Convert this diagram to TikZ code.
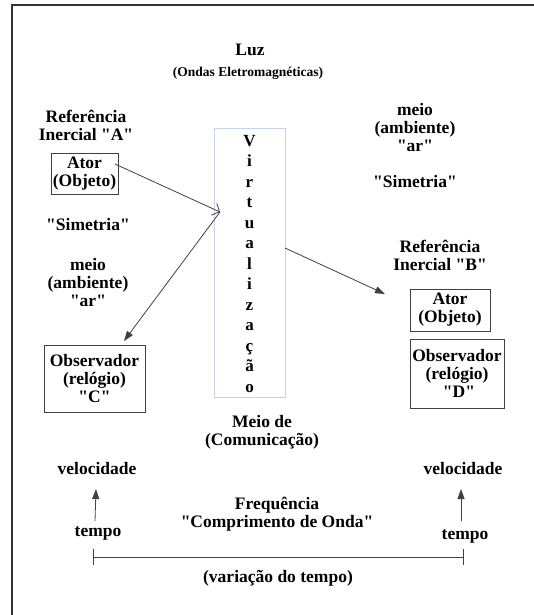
\documentclass[tikz,border=0pt]{standalone}
\usepackage{fontspec}
\setmainfont{Liberation Serif}[Ligatures=TeXOff]
\usetikzlibrary{arrows.meta}
\begin{document}
\begin{tikzpicture}[x=1pt,y=-1pt,
  txt/.style={inner sep=0pt,align=center,font=\bfseries\fontsize{17.5}{18}\selectfont},
  smalltxt/.style={inner sep=0pt,align=center,font=\bfseries\fontsize{13.5}{15}\selectfont},
  box/.style={txt,draw=black!75,line width=0.9pt},
  conn/.style={draw=black!75,line width=0.8pt},
  filltip/.style={-{Triangle[length=10pt,width=7pt]}},
  opentip/.style={-{Straight Barb[length=6pt,width=13pt]}}]
\useasboundingbox (0,0) rectangle (534,615);
% outer frame (runs off the page on the right and at the bottom)
\draw[black!80,line width=1.4pt] (12,640) -- (12,5) -- (560,5);

% headings
\node[txt] (luz) at (250,50) {Luz};
\node[smalltxt] (ondas) at (248,73) {(Ondas Eletromagnéticas)};

% reference frame A
\node[txt] (refA) at (86,125) {Referência\\Inercial "A"};
\node[box,minimum width=67pt,minimum height=41pt] (atorA) at (84.5,173.5) {Ator\\(Objeto)};
\node[txt] (simA) at (88,225) {"Simetria"};
\node[txt] (meioA) at (88,283) {meio\\(ambiente)\\"ar"};
\node[box,minimum width=101pt,minimum height=67pt] (obsC) at (94.5,378.5) {Observador\\(relógio)\\"C"};

% central medium
\node[draw={rgb,255:red,197;green,211;blue,234},line width=0.9pt,
      minimum width=71pt,minimum height=269pt,inner sep=0pt] (virt) at (249.5,262.5) {};
\node[inner sep=0pt,align=center,font=\bfseries\fontsize{17}{20.5}\selectfont] (virtword) at (249.5,264)
  {V\\i\\r\\t\\u\\a\\l\\i\\z\\a\\ç\\ã\\o};
\node[txt] (meiocom) at (262,432) {Meio de\\(Comunicação)};

% right side
\node[txt] (meioB) at (415,128) {meio\\(ambiente)\\"ar"};
\node[txt] (simB) at (415,182) {"Simetria"};
\node[txt] (refB) at (440,255) {Referência\\Inercial "B"};
\node[box,minimum width=80pt,minimum height=42pt] (atorB) at (450,310) {Ator\\(Objeto)};
\node[box,minimum width=94pt,minimum height=69pt] (obsD) at (457,373.5) {Observador\\(relógio)\\\hspace*{4pt}"D"};

% connectors through the medium
\coordinate (hub) at (220,212);
\coordinate (atorAout) at (115,164);
\coordinate (obsCin) at (124,341);
\coordinate (virtout) at (285,248);
\coordinate (refBin) at (385,294);
\draw[conn,opentip] (atorAout) -- (hub);
\draw[conn,filltip] (hub) -- (obsCin);
\draw[conn,filltip] (virtout) -- (refBin);

% time and speed
\node[txt] (velA) at (97,469) {velocidade};
\node[txt] (velB) at (463,469) {velocidade};
\node[txt] (freq) at (277,514) {Frequência\\"Comprimento de Onda"};
\node[txt] (tempoA) at (98,533) {tempo};
\node[txt] (tempoB) at (465,536) {tempo};
\draw[conn,filltip] (95,521) -- (96,489);
\draw[conn,filltip] (461,521) -- (461,489);

\coordinate (tA) at (93,557);
\coordinate (tB) at (463,557);
\draw[conn] (tA) -- (tB);
\draw[conn] (93,549) -- (93,565);
\draw[conn] (463,549) -- (463,565);
\node[txt] (dt) at (278,578) {(variação do tempo)};
\end{tikzpicture}
\end{document}
